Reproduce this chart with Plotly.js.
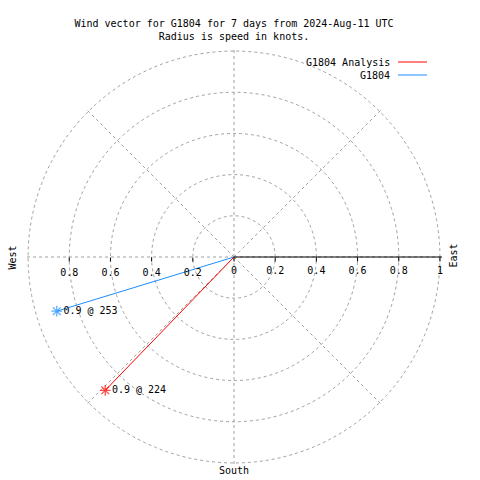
<!DOCTYPE html>
<html>
<head>
<meta charset="utf-8">
<script src="https://cdn.plot.ly/plotly-3.0.1.min.js"></script>
<style>html,body{margin:0;padding:0;background:#fff;}#chart{width:480px;height:480px;}</style>
</head>
<body>
<div id="chart"></div>
<script>
// ---- data ----
var seriesNames = ["G1804 Analysis", "G1804"];
var seriesSpeed = [0.9, 0.9];        // knots (radius)
var seriesDir = [224, 253];          // degrees (compass, from north clockwise)
var seriesColors = ["#ff0000", "#1a8cff"];
var eastTicks = [0, 0.2, 0.4, 0.6, 0.8, 1];
var westTicks = [0.2, 0.4, 0.6, 0.8];
var titleLines = ["Wind vector for G1804 for 7 days from 2024-Aug-11 UTC", "Radius is speed in knots."];
var compassLabels = ["West", "East", "South"];

var mono = "DejaVu Sans Mono, Liberation Mono, monospace";
var PX0 = 26, PY0 = 49, PW = 416, PH = 416;
function px(x) { return (x - PX0) / PW; }
function py(y) { return 1 - (y - PY0) / PH; }

var traces = [];
[1, 0].forEach(function (i) {
  traces.push({
    type: "scatterpolar",
    subplot: "polar",
    r: [0, seriesSpeed[i]],
    theta: [seriesDir[i], seriesDir[i]],
    mode: "lines+markers+text",
    line: {color: seriesColors[i], width: 1},
    marker: {symbol: ["circle", "asterisk-open"], size: [0, 9], color: seriesColors[i], line: {color: seriesColors[i], width: 1.3}},
    text: ["", seriesSpeed[i] + " @ " + seriesDir[i]],
    textposition: "middle right",
    textfont: {family: mono, size: 10, color: "#000"},
    showlegend: false,
    hoverinfo: "skip"
  });
});
traces.push({type: "scatterpolar", subplot: "polar2", r: [], theta: [], showlegend: false});

var gridCol = "#a0a0a0";
var dash = "3px,3px";
var annotations = [
  {text: compassLabels[0], xref: "paper", yref: "paper", x: px(19), y: py(258), xanchor: "right", yanchor: "middle", textangle: -90, showarrow: false, font: {family: mono, size: 10, color: "#000"}},
  {text: compassLabels[1], xref: "paper", yref: "paper", x: px(445), y: py(256), xanchor: "left", yanchor: "middle", textangle: -90, showarrow: false, font: {family: mono, size: 10, color: "#000"}},
  {text: compassLabels[2], xref: "paper", yref: "paper", x: px(234), y: py(470), yanchor: "middle", showarrow: false, font: {family: mono, size: 10, color: "#000"}}
];
var shapes = [];
var legY = [62, 75];
seriesNames.forEach(function (nm, i) {
  annotations.push({text: nm, xref: "paper", yref: "paper", x: px(392), y: py(legY[i]), xanchor: "right", yanchor: "middle", showarrow: false, font: {family: mono, size: 10, color: "#000"}});
  shapes.push({type: "line", xref: "paper", yref: "paper", x0: px(398), x1: px(427), y0: py(legY[i]), y1: py(legY[i]), line: {color: seriesColors[i], width: 1}});
});

var layout = {
  width: 480, height: 480,
  margin: {l: PX0, r: 480 - PX0 - PW, t: PY0, b: 480 - PY0 - PH},
  paper_bgcolor: "#fff",
  showlegend: false,
  title: {text: titleLines.join("<br>"), font: {family: mono, size: 10, color: "#000"}, xref: "paper", x: 0.5, xanchor: "center", yref: "container", y: 1 - 26.5 / 480, yanchor: "middle"},
  polar: {
    domain: {x: [0, 1], y: [0, 1]},
    bgcolor: "rgba(0,0,0,0)",
    radialaxis: {
      range: [0, 1.01], angle: 0, tickvals: eastTicks, ticktext: eastTicks.map(String),
      showline: true, linecolor: "#000", linewidth: 1,
      ticks: "outside", ticklen: 4, tickcolor: "#000", side: "clockwise",
      showgrid: true, gridcolor: gridCol, griddash: dash, gridwidth: 1,
      tickfont: {family: mono, size: 10, color: "#000"}, tickangle: 0
    },
    angularaxis: {
      rotation: 90, direction: "clockwise", dtick: 45, tickmode: "linear", tick0: 0,
      showline: false, showticklabels: false, ticks: "",
      showgrid: true, gridcolor: gridCol, griddash: dash, gridwidth: 1
    }
  },
  polar2: {
    domain: {x: [0, 1], y: [0, 1]},
    bgcolor: "rgba(0,0,0,0)",
    radialaxis: {
      range: [0, 1.01], angle: 180, tickvals: westTicks, ticktext: westTicks.map(String),
      showline: false, ticks: "outside", ticklen: 4, tickcolor: "#000", side: "counterclockwise",
      showgrid: false, tickfont: {family: mono, size: 10, color: "#000"}, tickangle: 180
    },
    angularaxis: {visible: false, showgrid: false, rotation: 90, direction: "clockwise"}
  },
  annotations: annotations,
  shapes: shapes
};
Plotly.newPlot("chart", traces, layout, {staticPlot: true});
</script>
</body>
</html>
